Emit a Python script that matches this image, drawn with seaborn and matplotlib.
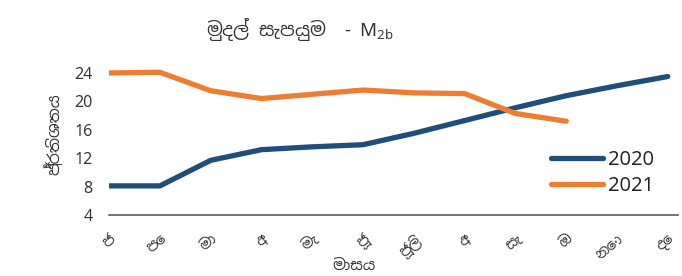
import matplotlib
matplotlib.use('Agg')
import matplotlib.pyplot as plt
import matplotlib.font_manager as fm
import seaborn as sns
import pandas as pd
import numpy as np

# month labels (Sinhala abbreviations)
months = ['ජ', 'පෙ', 'මා', 'අ', 'මැ', 'ජූ', 'ජූලි', 'අ', 'සැ', 'ඔ', 'නො', 'දෙ']
m2b_2020 = [8.1, 8.1, 11.7, 13.2, 13.6, 13.9, 15.5, 17.3, 19.1, 20.8, 22.2, 23.5]
m2b_2021 = [24.0, 24.1, 21.5, 20.4, 21.0, 21.6, 21.2, 21.1, 18.3, 17.2, np.nan, np.nan]
years = ['2020', '2021']
colors = ['#1F4E79', '#ED7D31']

df = pd.DataFrame({
    'month': list(range(len(months))) * 2,
    'value': m2b_2020 + m2b_2021,
    'year': [years[0]] * len(months) + [years[1]] * len(months),
})

sns.set_style('white')
sinhala = sorted({f.name for f in fm.fontManager.ttflist if 'Sinhala' in f.name})
plt.rcParams['font.family'] = sinhala + ['Lato', 'DejaVu Sans']
plt.rcParams['mathtext.default'] = 'regular'

fig = plt.figure(figsize=(6.82, 2.76), dpi=100)
ax = fig.add_axes([0.16, 0.221, 0.834, 0.53])

sns.lineplot(data=df, x='month', y='value', hue='year', palette=colors,
             linewidth=3.8, ax=ax, legend=True, solid_capstyle='round')

ax.set_xlim(0, 11.2)
ax.set_ylim(4, 24.6)
ax.set_yticks([4, 8, 12, 16, 20, 24])
ax.set_xticks(range(len(months)))
ax.set_xticklabels(months, rotation=40, ha='right', rotation_mode='anchor')
ax.tick_params(axis='both', length=0, labelsize=11.5, colors='#333333')
ax.tick_params(axis='x', pad=12, labelsize=10.5)
ax.tick_params(axis='y', pad=12)

for s in ['top', 'right', 'left']:
    ax.spines[s].set_visible(False)
ax.spines['bottom'].set_color('#595959')
ax.spines['bottom'].set_linewidth(1.2)

ax.set_xlabel('මාසය', fontsize=11, color='#333333')
ax.xaxis.set_label_coords(0.43, -0.3)
ax.set_ylabel('ප්‍රතිශතය', fontsize=11.5, color='#333333')
ax.yaxis.set_label_coords(-0.08, 0.55)

leg = ax.legend(loc='upper left', bbox_to_anchor=(0.808, 0.455),
                bbox_transform=fig.transFigure, frameon=False, fontsize=14.5,
                handlelength=2.6, labelspacing=0.3, borderaxespad=0,
                handletextpad=0.25, borderpad=0)
for line in leg.get_lines():
    line.set_linewidth(3.8)
    line.set_solid_capstyle('round')
for t in leg.get_texts():
    t.set_color('#222222')

fig.text(0.44, 0.87, 'මුදල් සැපයුම  - M$_{2b}$', ha='center', fontsize=13.5,
         color='#333333')

fig.savefig('out.png', dpi=100)
